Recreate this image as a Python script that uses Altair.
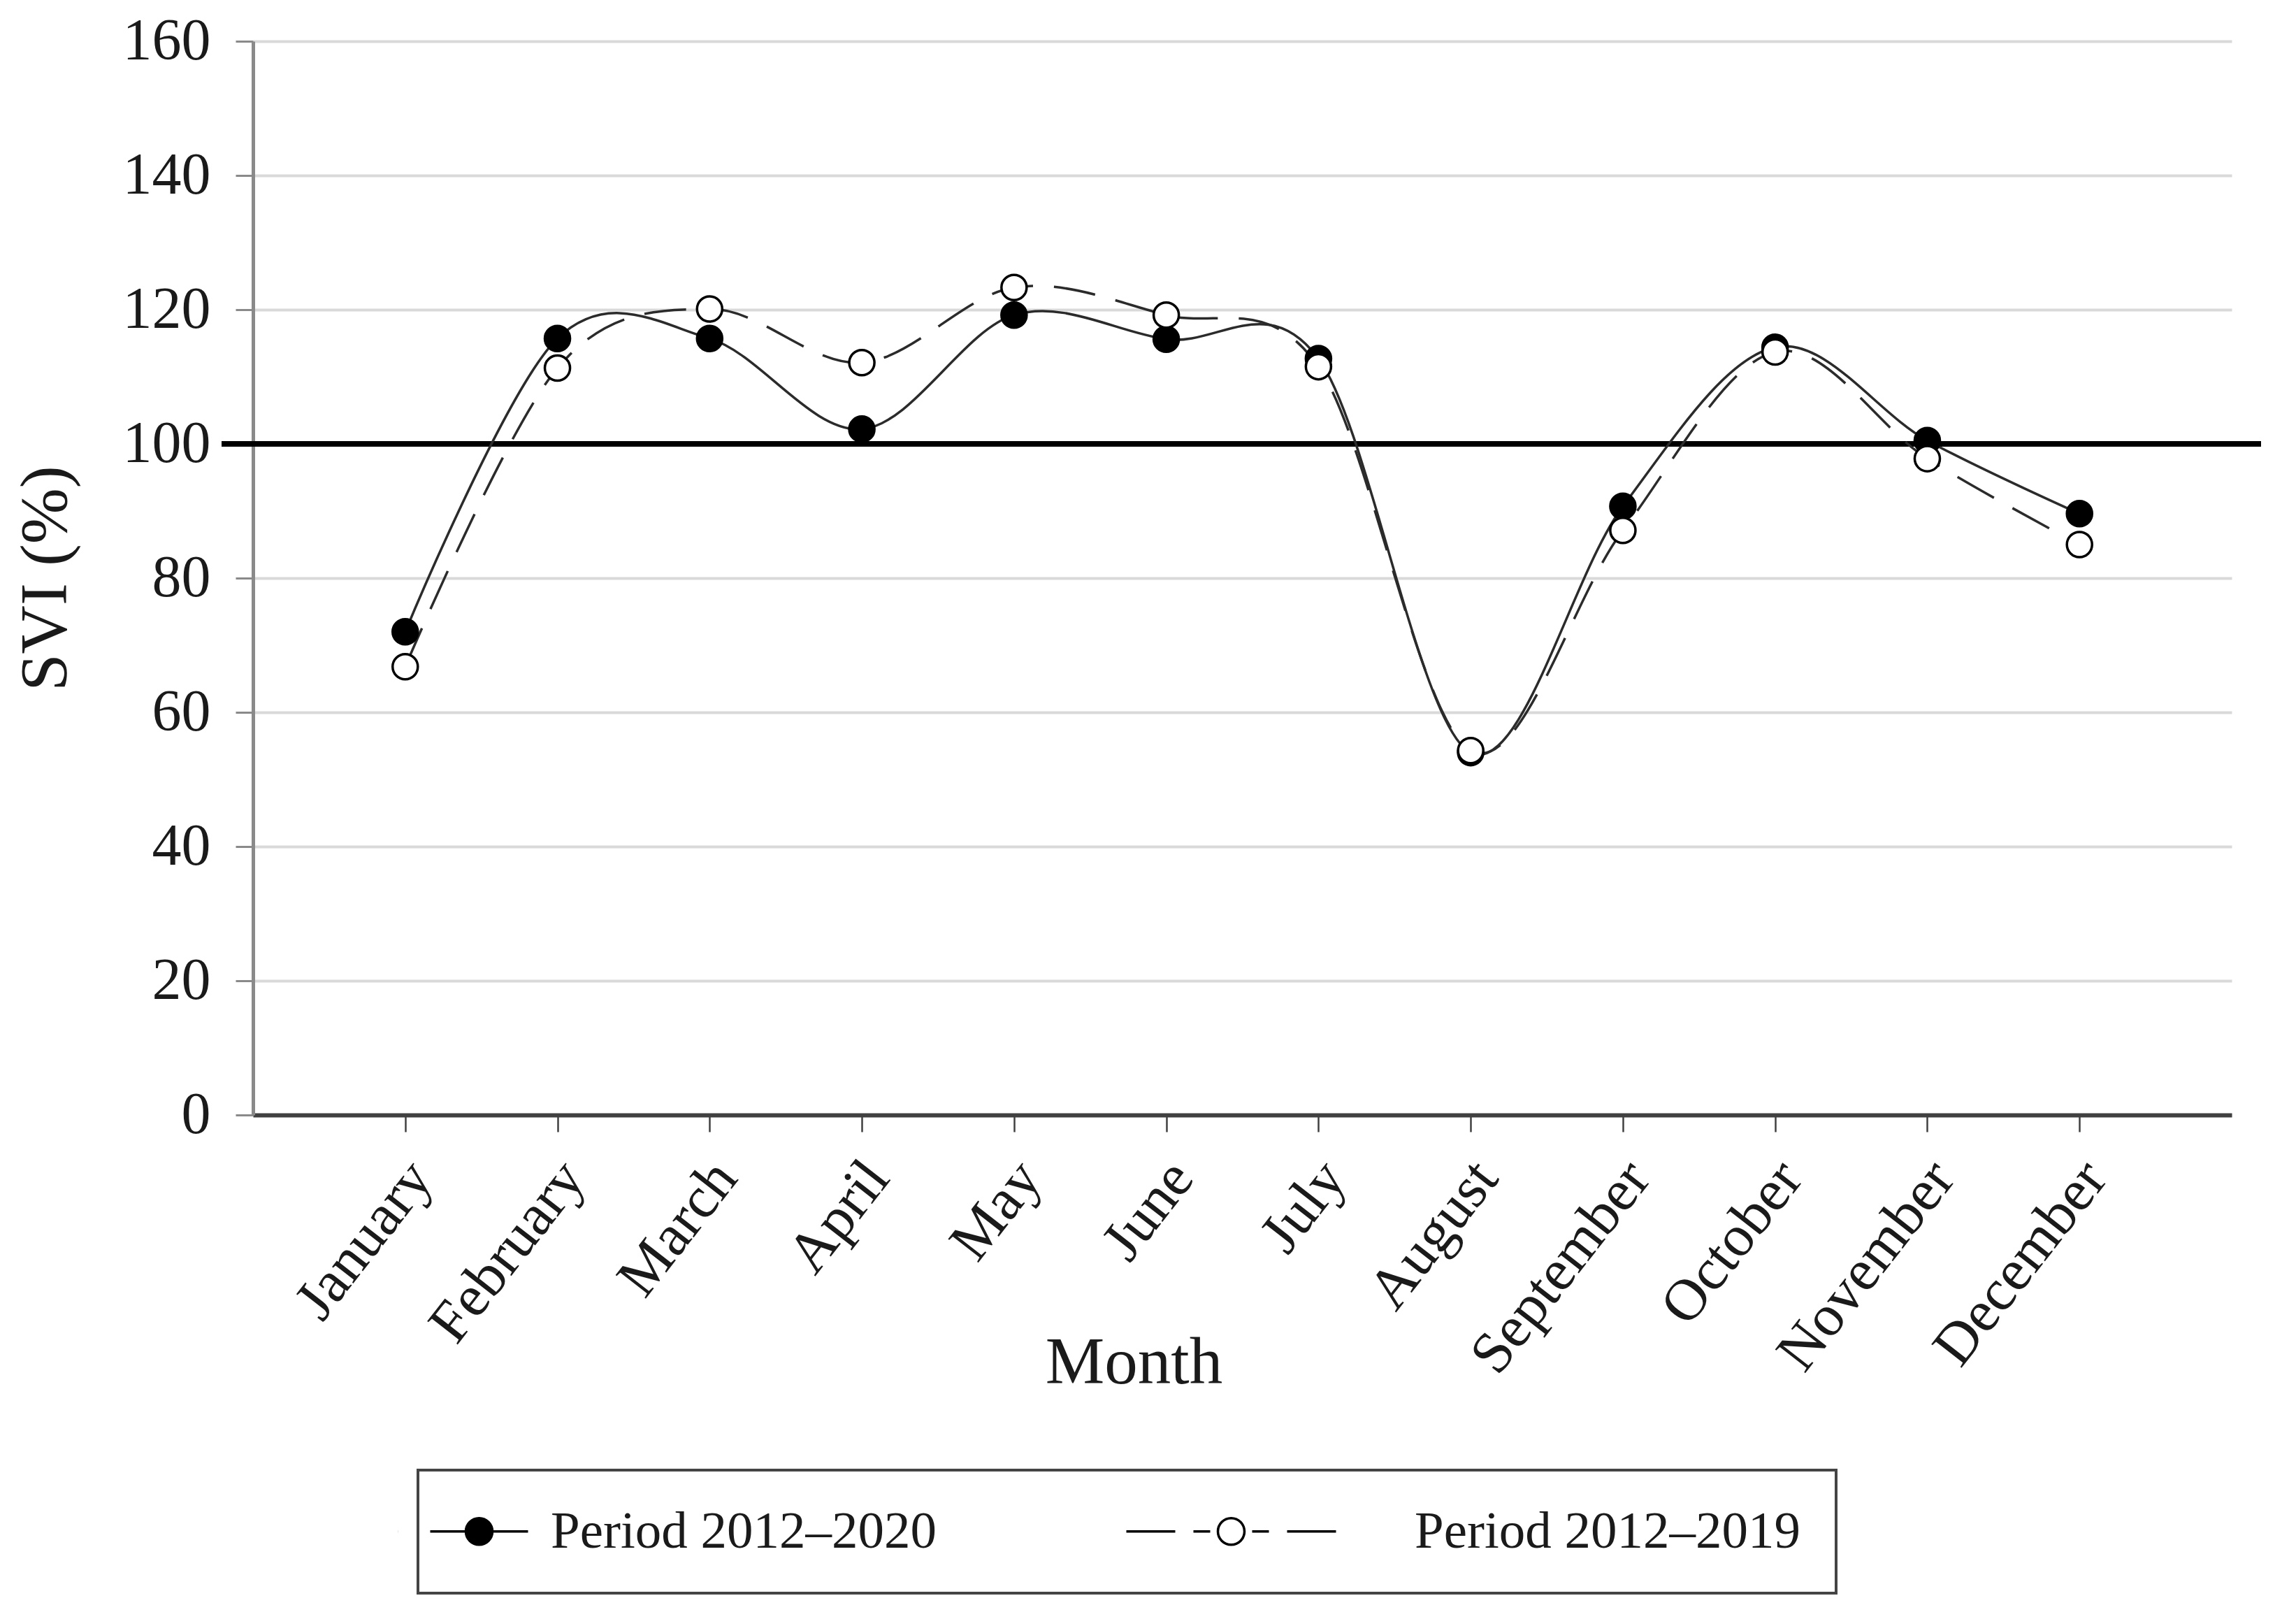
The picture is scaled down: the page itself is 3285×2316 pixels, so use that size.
import altair as alt
import pandas as pd

# ---------------- data ----------------
months = ["January", "February", "March", "April", "May", "June", "July",
          "August", "September", "October", "November", "December"]
svi_2012_2020 = [72.0, 115.7, 115.7, 102.2, 119.2, 115.6, 112.7, 54.0, 90.7, 114.4, 100.5, 89.6]
svi_2012_2019 = [66.8, 111.3, 120.1, 112.1, 123.3, 119.2, 111.5, 54.3, 87.1, 113.7, 97.8, 85.0]
series_names = ["Period 2012–2020", "Period 2012–2019"]
y_ticks = [0, 20, 40, 60, 80, 100, 120, 140, 160]
reference_level = [100]

df = pd.DataFrame({
    "Month": months + months,
    "SVI": svi_2012_2020 + svi_2012_2019,
    "Series": [series_names[0]] * len(months) + [series_names[1]] * len(months),
})
ref_df = pd.DataFrame({"SVI": reference_level})

# ---------------- style ----------------
W, H = 2831, 1536
FONT = "Liberation Serif"
TXT = "#1a1a1a"
LINE = "#2b2b2b"

# legend glyphs (line + circle) as custom SVG symbol paths
# (a near-zero-length segment on the left only widens the glyph's layout box)
sym_solid = ("M-5.8,0h0.005M-3.5,0H3.5"
             "M0.95,0A0.95,0.95 0 1 1 -0.95,0A0.95,0.95 0 1 1 0.95,0Z")
sym_dashed = ("M-15.5,0H-12M-10.7,0H-9.5M-6.5,0H-5.3M-4,0H-0.5"
              "M-7.05,0A0.95,0.95 0 1 1 -8.95,0A0.95,0.95 0 1 1 -7.05,0Z")

fill_scale = alt.Scale(domain=series_names, range=["black", "white"])
shape_scale = alt.Scale(domain=series_names, range=[sym_solid, sym_dashed])


def make_legend():
    return alt.Legend(
        title=None, orient="none", legendX=236, legendY=2044,
        direction="horizontal", columns=2, columnPadding=263,
        symbolSize=1600, symbolStrokeColor="black", symbolStrokeWidth=3.5,
        labelFont=FONT, labelFontSize=75, labelColor=TXT, labelOffset=65, labelLimit=0,
        padding=50, strokeColor="#444", fillColor="white",
    )


x_enc = alt.X(
    "Month:N", sort=months, title="Month",
    scale=alt.Scale(type="point", padding=1),
    axis=alt.Axis(
        grid=False, domainColor="#404040", domainWidth=6,
        tickColor="#404040", tickWidth=2.5, tickSize=24,
        labelAngle=308, labelAlign="right", labelBaseline="middle",
        labelPadding=52, labelOffset=22, labelLimit=0,
        labelFont=FONT, labelFontSize=84, labelColor=TXT,
        titleFont=FONT, titleFontSize=95, titleFontWeight="normal", titleColor=TXT,
        titleX=1260, titleY=383, titleBaseline="alphabetic", titleAlign="center",
    ),
)
y_enc = alt.Y(
    "SVI:Q", title="SVI (%)",
    scale=alt.Scale(domain=[0, 160], nice=False),
    axis=alt.Axis(
        values=y_ticks, grid=True, gridColor="#d9d9d9", gridWidth=4,
        domainColor="#8a8a8a", domainWidth=5,
        tickColor="#8a8a8a", tickWidth=3, tickSize=25,
        labelFont=FONT, labelFontSize=84, labelColor=TXT, labelPadding=36,
        titleFont=FONT, titleFontSize=96, titleFontWeight="normal", titleColor=TXT,
        titlePadding=61,
    ),
)

base = alt.Chart(df).encode(x=x_enc, y=y_enc)

rule = alt.Chart(ref_df).mark_rule(color="black", strokeWidth=8).encode(
    y=alt.Y("SVI:Q"), x=alt.value(-45), x2=alt.value(W + 42)
)

line_2020 = base.transform_filter(alt.datum.Series == series_names[0]).mark_line(
    interpolate="cardinal", tension=0, color=LINE, strokeWidth=3.5
)
line_2019 = base.transform_filter(alt.datum.Series == series_names[1]).mark_line(
    interpolate="cardinal", tension=0, color=LINE, strokeWidth=3.5, strokeDash=[60, 30]
)

points = base.mark_point(
    shape="circle", filled=True, size=1300, stroke="black", strokeWidth=3.5, opacity=1
).encode(
    fill=alt.Fill("Series:N", scale=fill_scale, legend=make_legend())
)

# empty layer that only supplies the line+marker glyphs to the legend
legend_layer = base.transform_filter("datum.SVI < 0").mark_point(
    filled=True, stroke="black", strokeWidth=3.5, opacity=1
).encode(
    fill=alt.Fill("Series:N", scale=fill_scale, legend=make_legend()),
    shape=alt.Shape("Series:N", scale=shape_scale, legend=make_legend()),
)

chart = alt.layer(rule, line_2020, line_2019, points, legend_layer).properties(
    width=W, height=H,
    padding={"left": 9, "top": 9, "right": 5, "bottom": 5},
).configure_view(stroke=None).configure_legend(strokeWidth=4)

chart.save("out.html", embed_options={"renderer": "svg", "actions": False})
